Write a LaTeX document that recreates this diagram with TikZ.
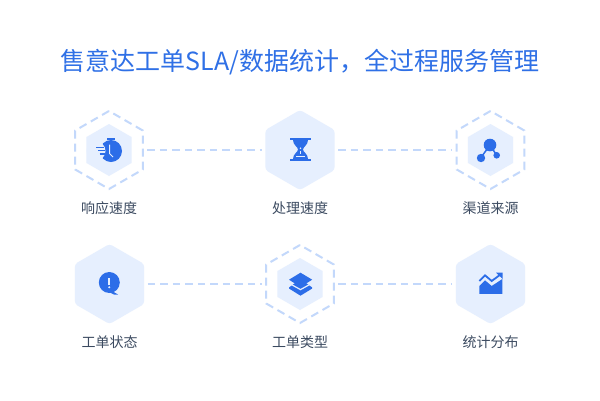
\documentclass[tikz,border=0pt]{standalone}
\usepackage{fontspec}
\setmainfont{Noto Sans CJK SC}
\usetikzlibrary{shapes.geometric}
\definecolor{hexfill}{HTML}{E6EFFE}
\definecolor{dashblue}{HTML}{C3D8FB}
\definecolor{iconblue}{HTML}{2C6DE8}
\definecolor{titleblue}{HTML}{2F70E6}
\definecolor{labelink}{HTML}{3B4A60}
\tikzset{
  x=1pt,y=-1pt,
  bighex/.style={regular polygon,regular polygon sides=6,shape border rotate=30,minimum size=80pt,inner sep=0pt,fill=hexfill,draw=none,rounded corners=3pt},
  ringhex/.style={regular polygon,regular polygon sides=6,shape border rotate=30,minimum size=78pt,inner sep=0pt,draw=dashblue,line width=2pt,dash pattern=on 8pt off 5pt},
  corehex/.style={regular polygon,regular polygon sides=6,shape border rotate=30,minimum size=52pt,inner sep=0pt,fill=hexfill,draw=none},
  linker/.style={draw=dashblue,line width=2.2pt,dash pattern=on 7.5pt off 5pt,shorten <=3.5pt,shorten >=3.5pt},
  caption/.style={text=labelink,font=\fontsize{14}{16}\selectfont,inner sep=0pt},
  icon/.style={fill=iconblue,draw=none},
}
\begin{document}
\begin{tikzpicture}
\useasboundingbox (0,0) rectangle (600,400);
\fill[white] (0,0) rectangle (600,400);
\node[text=titleblue,font=\fontsize{25}{30}\selectfont,inner sep=0pt] (title) at (300,62) {售意达工单SLA/数据统计，全过程服务管理};
% hexagons
\node[ringhex] (a) at (109,150) {};
\node[corehex] at (109,150) {};
\node[bighex] (b) at (300,150) {};
\node[ringhex] (c) at (490.5,150) {};
\node[corehex] at (490.5,150) {};
\node[bighex] (d) at (109.5,284) {};
\node[ringhex] (e) at (300,284) {};
\node[corehex] at (300,284) {};
\node[bighex] (f) at (490.5,284) {};
% connectors
\path[linker,yshift=-0.6pt] (a.east) -- (b.west);
\path[linker,yshift=-0.6pt] (b.east) -- (c.west);
\path[linker] (d.east) -- (e.west);
\path[linker] (e.east) -- (f.west);
% labels
\node[caption] (la) at (109,208) {响应速度};
\node[caption] (lb) at (300,208) {处理速度};
\node[caption] (lc) at (490.5,208) {渠道来源};
\node[caption] (ld) at (109.5,342) {工单状态};
\node[caption] (le) at (300,342) {工单类型};
\node[caption] (lf) at (490.5,342) {统计分布};
% icon: stopwatch
\fill[icon] (111,151) circle (11);
\fill[icon] (106.5,138) rectangle (114.5,139.5);
\fill[icon] (109.7,139) rectangle (111.3,141);
\fill[hexfill] (96,151) circle (9.5);
\draw[iconblue,line width=1.3pt] (96,147.2) -- (104,147.2) (98,150.5) -- (105,150.5) (99.5,154) -- (104.5,154);
\draw[hexfill,line width=1pt] (109.5,144.5) -- (109.5,153.5) -- (113,157);
% icon: hourglass
\fill[icon] (290,138) rectangle (311.3,140.4);
\fill[icon] (290,158.6) rectangle (311.3,160.8);
\fill[icon] (293,140) .. controls (293,145) and (298,147) .. (298,149.5) .. controls (298,152) and (293,154) .. (293,159) -- (308,159) .. controls (308,154) and (303,152) .. (303,149.5) .. controls (303,147) and (308,145) .. (308,140) -- cycle;
\fill[hexfill] (296,155.8) rectangle (305,157.2);
\fill[hexfill] (300.5,148.2) circle (.8);
\fill[hexfill] (299.7,151) rectangle (301.3,154);
% icon: source graph
\draw[iconblue,line width=1.5pt] (481,157.5) -- (490,145) -- (496.7,155.3);
\fill[icon] (490,145) circle (6.3);
\fill[icon] (481,158) circle (4.2);
\fill[icon] (496.7,155.3) circle (3.3);
% icon: alert bubble
\fill[icon] (109.3,282.5) circle (10.5);
\fill[icon] (112,291) -- (118,294.5) -- (114,294.5) -- (110,292.5) -- cycle;
\fill[hexfill] (108.4,277.5) rectangle (110.2,285);
\fill[hexfill] (109.3,287.2) circle (1.1);
% icon: layers
\fill[icon] (300.5,279) -- (312.2,287.5) -- (312.2,288.5) -- (300.5,295.7) -- (289,288.5) -- (289,287.5) -- cycle;
\draw[hexfill,line width=1.2pt] (288,282.7) -- (300.5,289.6) -- (313,282.7);
\fill[icon] (300.5,272.7) -- (312.2,279.7) -- (300.5,287) -- (289,279.7) -- cycle;
% icon: chart
\fill[icon] (479.3,293.9) -- (479.3,286) -- (485,280.3) -- (491.7,286) -- (502.3,279) -- (502.3,293.9) -- cycle;
\draw[iconblue,line width=1.8pt] (479.3,281) -- (485,275.3) -- (491.7,281) -- (500.5,274.5);
\fill[icon] (496,272.7) -- (502.5,272.7) -- (502.5,278.8) -- cycle;
\end{tikzpicture}
\end{document}
